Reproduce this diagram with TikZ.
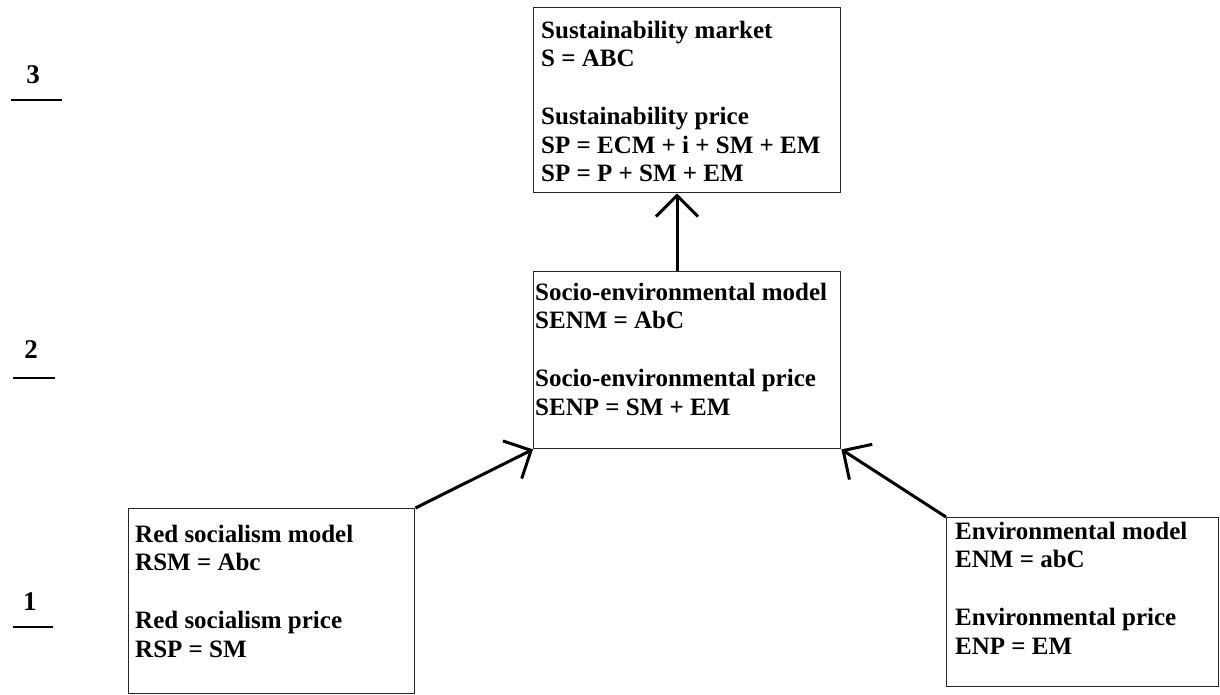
\documentclass[tikz,border=0pt]{standalone}
\usepackage{fontspec}
\setmainfont{Liberation Serif}
\usetikzlibrary{arrows.meta,calc}

\tikzset{
  box/.style={draw=black!85, line width=1.4pt, inner sep=0pt, anchor=north west},
  boxtext/.style={align=left, inner sep=0pt, anchor=north west,
    font=\bfseries\fontsize{25}{28.5}\selectfont},
  level/.style={inner sep=0pt, anchor=base, font=\bfseries\fontsize{27}{30}\selectfont},
  levelrule/.style={line width=2pt},
  link/.style={line width=3pt, -{Straight Barb[length=21pt,width=42pt]}},
}

\begin{document}
\begin{tikzpicture}[x=1pt, y=-1pt]
  \useasboundingbox (0,0) rectangle (1220,694);

  % the four boxes
  \node[box, minimum width=307pt, minimum height=185pt] (top)   at (533,7)   {};
  \node[box, minimum width=307pt, minimum height=177pt] (mid)   at (533,271) {};
  \node[box, minimum width=286pt, minimum height=185pt] (left)  at (128,508) {};
  \node[box, minimum width=272pt, minimum height=169pt] (right) at (946,517) {};

  % box contents
  \node[boxtext] (toptxt) at (541,20.5) {Sustainability market\\ S = ABC\\[29.5pt]
    Sustainability price\\ SP = ECM + i + SM + EM\\ SP = P + SM + EM};
  \node[boxtext] (midtxt) at (535,282.5) {Socio-environmental model\\ SENM = AbC\\[29.5pt]
    Socio-environmental price\\ SENP = SM + EM};
  \node[boxtext] (lefttxt) at (135,524.5) {Red socialism model\\ RSM = Abc\\[29.5pt]
    Red socialism price\\ RSP = SM};
  \node[boxtext] (righttxt) at (955,521.5) {Environmental model\\ ENM = abC\\[29.5pt]
    Environmental price\\ ENP = EM};

  % level markers
  \node[level] (lv3) at (33,83) {3};
  \node[level] (lv2) at (31,358) {2};
  \node[level] (lv1) at (30,610) {1};
  \draw[levelrule] (11,100) -- (62,100);
  \draw[levelrule] (13,378) -- (55,378);
  \draw[levelrule] (13,627) -- (53,627);

  % connectors
  \draw[link] ($(mid.north west)+(144,0)$) -- ($(top.south west)+(144,0)$);
  \draw[link] (left.north east) -- (mid.south west);
  \draw[link] (right.north west) -- (mid.south east);
\end{tikzpicture}
\end{document}
